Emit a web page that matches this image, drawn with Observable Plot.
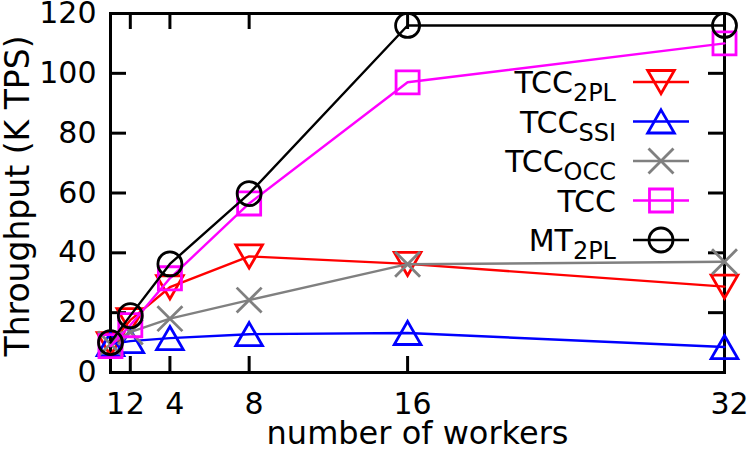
<!DOCTYPE html>
<html>
<head>
<meta charset="utf-8">
<script src="https://cdn.jsdelivr.net/npm/d3@7"></script>
<script src="https://cdn.jsdelivr.net/npm/@observablehq/plot@0.6"></script>
<style>
  html, body { margin: 0; padding: 0; background: #fff; }
</style>
</head>
<body>
<div id="chart"></div>
<script>
// Throughput (thousand transactions per second) by number of workers
const workers = [1, 2, 4, 8, 16, 32];
const tcc2pl = [9.5, 17.5, 28.5, 38.8, 36.3, 28.7];
const tccSsi = [9.5, 10.5, 11.5, 12.8, 13.2, 8.5];
const tccOcc = [9.5, 13.5, 18.0, 24.2, 36.2, 37.0];
const tcc    = [8.8, 15.8, 31.5, 56.5, 97.0, 110.0];
const mt2pl  = [10.0, 19.0, 36.3, 59.8, 116.0, 116.0];

const xTicks = [1, 2, 4, 8, 16, 32];
const yTicks = [0, 20, 40, 60, 80, 100, 120];

const seriesNames = ["TCC", "TCC", "TCC", "TCC", "MT"];
const seriesSubs = ["2PL", "SSI", "OCC", "", "2PL"];
const seriesValues = [tcc2pl, tccSsi, tccOcc, tcc, mt2pl];
const seriesColors = ["#ff0000", "#0000ff", "#808080", "#ff00ff", "#000000"];

// marker styling per series (gnuplot-like open symbols)
const markers = [
  {symbol: "triangle", r: 9.9, rotate: 180, dy: -3.8},
  {symbol: "triangle", r: 9.9, rotate: 0, dy: 3.8},
  {symbol: "times", r: 11.4, rotate: 0, dy: 0},
  {symbol: "square", r: 13, rotate: 0, dy: 0},
  {symbol: "circle", r: 12, rotate: 0, dy: 0}
];

const W = 750, H = 450;
const mL = 110, mR = 26, mT = 13, mB = 78;
const innerW = W - mL - mR, innerH = H - mT - mB;
const tickLen = 16;
const FONT = "DejaVu Sans";
const LINE_W = 2.4, MARK_W = 2.8;

const rows = seriesValues.map((vals, s) =>
  workers.map((w, i) => ({workers: w, value: vals[i], s}))
);

const marks = [
  Plot.frame({stroke: "black", strokeWidth: 3}),
  // inward ticks on all four sides
  Plot.tickY(yTicks, {stroke: "black", strokeWidth: 3, insetRight: innerW - tickLen}),
  Plot.tickY(yTicks, {stroke: "black", strokeWidth: 3, insetLeft: innerW - tickLen}),
  Plot.tickX(xTicks, {stroke: "black", strokeWidth: 3, insetTop: innerH - tickLen}),
  Plot.tickX(xTicks, {stroke: "black", strokeWidth: 3, insetBottom: innerH - tickLen}),
  Plot.axisY(yTicks, {tickSize: 0, tickPadding: 14, fontSize: 30, label: null}),
  Plot.axisX(xTicks, {tickSize: 0, tickPadding: 20, dx: 5, fontSize: 30, label: null}),
  Plot.text(["Throughput (K TPS)"], {
    frameAnchor: "left", textAnchor: "middle", lineAnchor: "middle",
    rotate: -90, dx: -92, dy: 3, fontSize: 33, fill: "black"
  }),
  Plot.text(["number of workers"], {
    frameAnchor: "bottom", textAnchor: "middle", lineAnchor: "middle",
    dy: 61, fontSize: 32, fill: "black"
  })
];

rows.forEach((data, s) => {
  const m = markers[s];
  marks.push(
    Plot.line(data, {x: "workers", y: "value", stroke: seriesColors[s], strokeWidth: LINE_W}),
    Plot.dot(data, {
      x: "workers", y: "value", symbol: m.symbol, r: m.r, rotate: m.rotate, dy: m.dy,
      stroke: seriesColors[s], strokeWidth: MARK_W, fill: "none"
    })
  );
});

const chart = Plot.plot({
  width: W,
  height: H,
  marginLeft: mL,
  marginRight: mR,
  marginTop: mT,
  marginBottom: mB,
  style: {fontFamily: FONT, background: "white", color: "black", overflow: "visible"},
  x: {type: "linear", domain: [1, 32]},
  y: {type: "linear", domain: [0, 120]},
  marks
});

// legend inside the plot area, upper right
const svg = d3.select(chart);
const legend = svg.append("g").attr("font-family", FONT);
const symbolTypes = {triangle: d3.symbolTriangle, times: d3.symbolTimes, square: d3.symbolSquare};
const rowY0 = 82, rowStep = 39.5;
const textRight = 616, lineX1 = 633, lineX2 = 689, symX = 661;

seriesNames.forEach((name, s) => {
  const y = rowY0 + s * rowStep;
  const m = markers[s];
  const color = seriesColors[s];
  const t = legend.append("text")
    .attr("x", textRight)
    .attr("y", y + 11)
    .attr("text-anchor", "end")
    .attr("font-size", 30)
    .attr("fill", "black");
  t.append("tspan").text(name);
  if (seriesSubs[s]) {
    t.append("tspan").attr("font-size", 24).attr("dy", 8).text(seriesSubs[s]);
  }
  legend.append("line")
    .attr("x1", lineX1).attr("x2", lineX2)
    .attr("y1", y).attr("y2", y)
    .attr("stroke", color).attr("stroke-width", LINE_W);
  if (m.symbol === "circle") {
    legend.append("circle")
      .attr("cx", symX).attr("cy", y).attr("r", m.r)
      .attr("fill", "none").attr("stroke", color).attr("stroke-width", MARK_W);
  } else {
    const path = d3.symbol(symbolTypes[m.symbol], m.r * m.r * Math.PI)();
    legend.append("path")
      .attr("d", path)
      .attr("transform", `translate(${symX},${y + m.dy}) rotate(${m.rotate})`)
      .attr("fill", "none").attr("stroke", color).attr("stroke-width", MARK_W);
  }
});

document.getElementById("chart").appendChild(chart);
</script>
</body>
</html>
